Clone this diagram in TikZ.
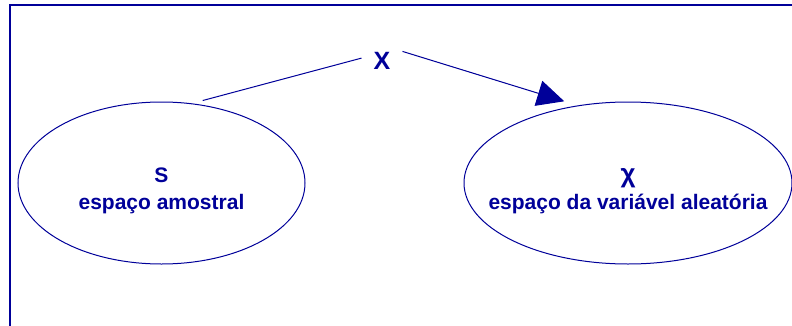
\documentclass[tikz,border=0pt]{standalone}
\usepackage{fontspec}
\setmainfont{Liberation Sans}
\usepackage{xcolor}
\usepackage{tikz}
\usetikzlibrary{positioning,arrows.meta,shapes.geometric}
\definecolor{RVNavy}{HTML}{000099}
\tikzset{rvspace/.style={draw=RVNavy, ellipse, line width=1pt, inner sep=0pt, minimum height=162pt}, rvtext/.style={text=RVNavy, align=center, inner sep=0pt, font=\fontsize{21}{27}\selectfont\bfseries}, rvmap/.style={text=RVNavy, inner sep=12pt, font=\fontsize{25}{30}\selectfont\bfseries}, rvline/.style={draw=RVNavy, line width=1pt}, rvarrow/.style={-{Triangle[length=27pt,width=26pt]}, draw=RVNavy, fill=RVNavy, line width=1pt}, rvframe/.style={draw=RVNavy, line width=2.8pt}}

\begin{document}
\begin{tikzpicture}[x=1pt, y=1pt, node distance=158pt]
\useasboundingbox (0,0) rectangle (792,325);
\draw[rvframe] (10,-10) -- (10,320) -- (810,320);
\node[rvspace, minimum width=287pt] (samp) at (161.5,142) {};
\node[rvspace, minimum width=328pt, right=of samp] (chi) {};
\node[rvtext] (samptext) at ([yshift=-7.5pt]samp.center) {\rule{0pt}{16pt}S\\espaço amostral\rule[-5pt]{0pt}{5pt}};
\node[rvtext] (chitext) at ([yshift=-7.5pt]chi.center) {\rule{0pt}{16pt}{\fontsize{26}{27}\selectfont χ}\\espaço da variável aleatória\rule[-5pt]{0pt}{5pt}};
\node[rvmap] (map) at (382,264) {X};
\draw[rvline, shorten <=11pt] (samp.69) -- (map.172);
\draw[rvarrow, shorten >=14pt] (map.25) -- (chi.123);
\end{tikzpicture}
\end{document}
